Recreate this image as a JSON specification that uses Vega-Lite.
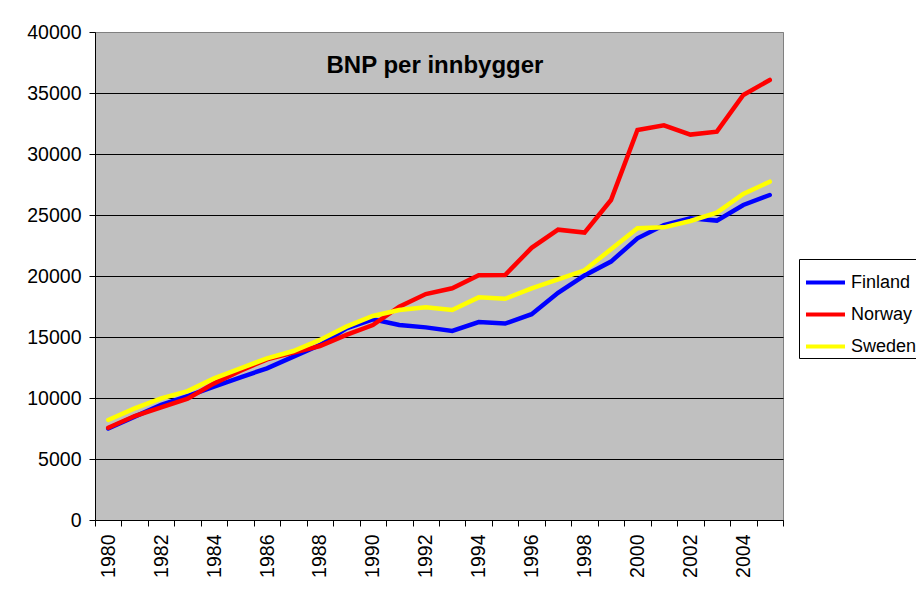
{
  "$schema": "https://vega.github.io/schema/vega-lite/v6.json",
  "width": 688,
  "height": 488,
  "autosize": {"type": "none"},
  "padding": {"left": 95, "top": 32, "right": 133, "bottom": 70},
  "background": "white",
  "config": {
    "font": "Liberation Sans",
    "view": {"fill": "#C0C0C0", "stroke": "#808080", "strokeWidth": 1}
  },
  "title": {
    "text": "BNP per innbygger",
    "fontSize": 24,
    "fontWeight": "bold",
    "color": "black",
    "font": "Liberation Sans",
    "anchor": "middle",
    "frame": "group",
    "baseline": "alphabetic",
    "offset": -75,
    "dx": -4
  },
  "data": {
    "values": [
      {"year": 1980, "country": "Finland", "value": 7500},
      {"year": 1981, "country": "Finland", "value": 8470},
      {"year": 1982, "country": "Finland", "value": 9430},
      {"year": 1983, "country": "Finland", "value": 10160},
      {"year": 1984, "country": "Finland", "value": 10930},
      {"year": 1985, "country": "Finland", "value": 11700},
      {"year": 1986, "country": "Finland", "value": 12430},
      {"year": 1987, "country": "Finland", "value": 13390},
      {"year": 1988, "country": "Finland", "value": 14340},
      {"year": 1989, "country": "Finland", "value": 15710},
      {"year": 1990, "country": "Finland", "value": 16450},
      {"year": 1991, "country": "Finland", "value": 15980},
      {"year": 1992, "country": "Finland", "value": 15790},
      {"year": 1993, "country": "Finland", "value": 15500},
      {"year": 1994, "country": "Finland", "value": 16220},
      {"year": 1995, "country": "Finland", "value": 16100},
      {"year": 1996, "country": "Finland", "value": 16870},
      {"year": 1997, "country": "Finland", "value": 18620},
      {"year": 1998, "country": "Finland", "value": 20050},
      {"year": 1999, "country": "Finland", "value": 21180},
      {"year": 2000, "country": "Finland", "value": 23090},
      {"year": 2001, "country": "Finland", "value": 24180},
      {"year": 2002, "country": "Finland", "value": 24730},
      {"year": 2003, "country": "Finland", "value": 24540},
      {"year": 2004, "country": "Finland", "value": 25820},
      {"year": 2005, "country": "Finland", "value": 26640},
      {"year": 1980, "country": "Norway", "value": 7560},
      {"year": 1981, "country": "Norway", "value": 8520},
      {"year": 1982, "country": "Norway", "value": 9230},
      {"year": 1983, "country": "Norway", "value": 9950},
      {"year": 1984, "country": "Norway", "value": 11200},
      {"year": 1985, "country": "Norway", "value": 12240},
      {"year": 1986, "country": "Norway", "value": 13170},
      {"year": 1987, "country": "Norway", "value": 13720},
      {"year": 1988, "country": "Norway", "value": 14260},
      {"year": 1989, "country": "Norway", "value": 15170},
      {"year": 1990, "country": "Norway", "value": 15980},
      {"year": 1991, "country": "Norway", "value": 17490},
      {"year": 1992, "country": "Norway", "value": 18520},
      {"year": 1993, "country": "Norway", "value": 18990},
      {"year": 1994, "country": "Norway", "value": 20070},
      {"year": 1995, "country": "Norway", "value": 20080},
      {"year": 1996, "country": "Norway", "value": 22310},
      {"year": 1997, "country": "Norway", "value": 23800},
      {"year": 1998, "country": "Norway", "value": 23560},
      {"year": 1999, "country": "Norway", "value": 26230},
      {"year": 2000, "country": "Norway", "value": 31970},
      {"year": 2001, "country": "Norway", "value": 32350},
      {"year": 2002, "country": "Norway", "value": 31590},
      {"year": 2003, "country": "Norway", "value": 31830},
      {"year": 2004, "country": "Norway", "value": 34840},
      {"year": 2005, "country": "Norway", "value": 36070},
      {"year": 1980, "country": "Sweden", "value": 8200},
      {"year": 1981, "country": "Sweden", "value": 9150},
      {"year": 1982, "country": "Sweden", "value": 9970},
      {"year": 1983, "country": "Sweden", "value": 10570},
      {"year": 1984, "country": "Sweden", "value": 11610},
      {"year": 1985, "country": "Sweden", "value": 12430},
      {"year": 1986, "country": "Sweden", "value": 13250},
      {"year": 1987, "country": "Sweden", "value": 13850},
      {"year": 1988, "country": "Sweden", "value": 14760},
      {"year": 1989, "country": "Sweden", "value": 15850},
      {"year": 1990, "country": "Sweden", "value": 16720},
      {"year": 1991, "country": "Sweden", "value": 17210},
      {"year": 1992, "country": "Sweden", "value": 17430},
      {"year": 1993, "country": "Sweden", "value": 17210},
      {"year": 1994, "country": "Sweden", "value": 18250},
      {"year": 1995, "country": "Sweden", "value": 18130},
      {"year": 1996, "country": "Sweden", "value": 18990},
      {"year": 1997, "country": "Sweden", "value": 19730},
      {"year": 1998, "country": "Sweden", "value": 20470},
      {"year": 1999, "country": "Sweden", "value": 22190},
      {"year": 2000, "country": "Sweden", "value": 23910},
      {"year": 2001, "country": "Sweden", "value": 23990},
      {"year": 2002, "country": "Sweden", "value": 24510},
      {"year": 2003, "country": "Sweden", "value": 25190},
      {"year": 2004, "country": "Sweden", "value": 26720},
      {"year": 2005, "country": "Sweden", "value": 27730}
    ]
  },
  "mark": {"type": "line", "strokeWidth": 4.5, "strokeCap": "round"},
  "encoding": {
    "x": {
      "field": "year",
      "type": "ordinal",
      "bandPosition": 0.5,
      "scale": {"type": "band", "paddingInner": 0, "paddingOuter": 0},
      "axis": {
        "title": null,
        "labelAngle": -90,
        "labelFontSize": 19.5,
        "labelColor": "black",
        "labelPadding": 8,
        "labelOverlap": false,
        "labelExpr": "datum.value % 2 == 0 ? datum.label : ''",
        "tickBand": "extent",
        "tickSize": 6,
        "tickColor": "black",
        "domainColor": "black",
        "grid": false
      }
    },
    "y": {
      "field": "value",
      "type": "quantitative",
      "scale": {"domain": [0, 40000], "nice": false},
      "axis": {
        "title": null,
        "values": [0, 5000, 10000, 15000, 20000, 25000, 30000, 35000, 40000],
        "format": "d",
        "labelFontSize": 19.5,
        "labelColor": "black",
        "labelPadding": 8,
        "tickSize": 6,
        "tickColor": "black",
        "domainColor": "black",
        "grid": true,
        "gridColor": {"condition": {"test": "datum.value == 40000", "value": "#808080"}, "value": "black"},
        "gridOpacity": 1
      }
    },
    "color": {
      "field": "country",
      "type": "nominal",
      "scale": {"domain": ["Finland", "Norway", "Sweden"], "range": ["#0000FF", "#FF0000", "#FFFF00"]},
      "legend": {
        "title": null,
        "orient": "none",
        "legendX": 704,
        "legendY": 227,
        "strokeColor": "black",
        "fillColor": "white",
        "padding": 2,
        "labelFontSize": 18,
        "labelColor": "black",
        "labelOffset": 4,
        "symbolType": "stroke",
        "symbolStrokeWidth": 4,
        "symbolSize": 1521,
        "symbolOffset": 3,
        "rowPadding": 1
      }
    }
  }
}
